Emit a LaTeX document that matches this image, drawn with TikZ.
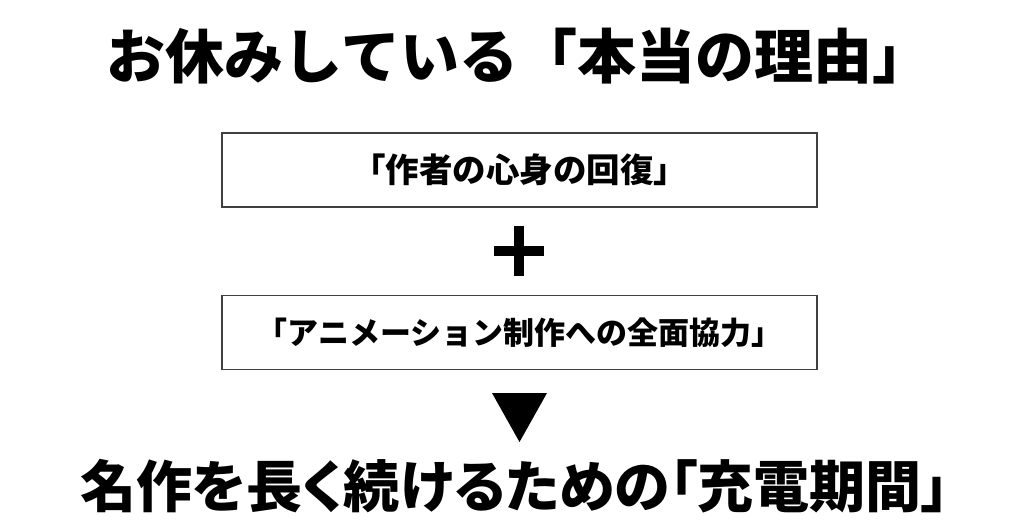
\documentclass[tikz,border=0pt]{standalone}
\usepackage{fontspec}
\newfontfamily\jp{Noto Sans CJK JP}
\newfontfamily\jpp{Noto Sans CJK JP}[RawFeature=+palt]
\begin{document}
\begin{tikzpicture}[x=1pt,y=-1pt,
  big/.style={font=\jp\bfseries\fontsize{59}{61}\selectfont, inner sep=0pt},
  bigp/.style={font=\jpp\bfseries\fontsize{56}{58}\selectfont, inner sep=0pt},
  frame/.style={draw=black!75, line width=1.5pt, minimum width=595pt, minimum height=74pt, inner sep=0pt}]
\useasboundingbox[fill=white] (0,0) rectangle (1024,524);
\node[big] (title) at (519,56) {お休みしている「本当の理由」};
\node[frame] (box1) at (519.5,170) {};
\node[font=\jp\bfseries\fontsize{33.5}{35}\selectfont, inner sep=0pt] (t1) at (box1.center) {「作者の心身の回復」};
\node[frame] (box2) at (519.5,332.5) {};
\node[font=\jp\bfseries\fontsize{31}{33}\selectfont, inner sep=0pt] (t2) at (box2.center) {「アニメーション制作への全面協力」};
\coordinate (plus) at (519,251);
\fill ([xshift=-5pt,yshift=-25pt]plus) rectangle ([xshift=5pt,yshift=25pt]plus);
\fill ([xshift=-25pt,yshift=-5pt]plus) rectangle ([xshift=25pt,yshift=5pt]plus);
\coordinate (tri) at (519.5,393);
\fill ([xshift=-27.5pt]tri) -- ([xshift=27.5pt]tri) -- ([yshift=-49pt]tri) -- cycle;
\node[bigp] (bottom) at (515,486) {名作を長く続けるための「充電期間」};
\end{tikzpicture}
\end{document}
